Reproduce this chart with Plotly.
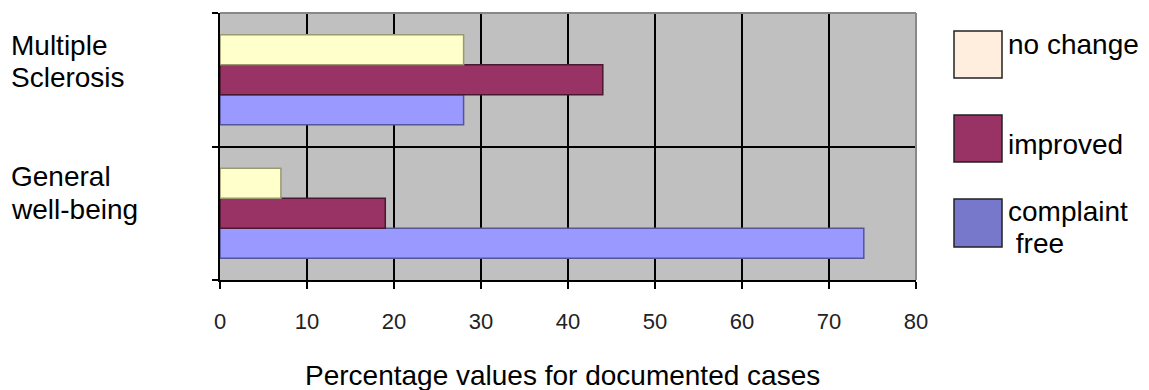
import plotly.graph_objects as go

# Data
categories = ["General well-being", "Multiple Sclerosis"]
category_label_lines = [["General", "well-being"], ["Multiple", "Sclerosis"]]
series_names = ["complaint free", "improved", "no change"]
legend_label_lines = [["complaint", " free"], ["improved"], ["no change"]]
complaint_free = [74, 28]
improved = [19, 44]
no_change = [7, 28]
x_ticks = [0, 10, 20, 30, 40, 50, 60, 70, 80]

# Styling
W, H = 1149, 390
L, R, T, B = 220, 916, 13, 280
bar_fill = {"complaint free": "#9999FF", "improved": "#993366", "no change": "#FFFFCC"}
bar_edge = {"complaint free": "#555599", "improved": "#4A1830", "no change": "#9A9A70"}
swatch_fill = {"complaint free": "#7777CC", "improved": "#993366", "no change": "#FFEEDD"}
FONT = "Liberation Sans, Arial, sans-serif"


def px(x):
    return (x - L) / (R - L)


def py(y):
    return 1 - (y - T) / (B - T)


def text_line(text, x, y, size=28):
    fig.add_annotation(text=text, xref="paper", yref="paper", x=px(x), y=py(y),
                       xanchor="left", yanchor="middle", align="left", showarrow=False,
                       font=dict(size=size, family=FONT, color="black"))


fig = go.Figure()
for name, vals in zip(series_names, [complaint_free, improved, no_change]):
    fig.add_trace(go.Bar(
        y=categories, x=vals, name=name, orientation="h",
        marker=dict(color=bar_fill[name], line=dict(color=bar_edge[name], width=1.5)),
        showlegend=False,
    ))

fig.update_layout(
    width=W, height=H,
    margin=dict(l=L, r=W - R, t=T, b=H - B, pad=0),
    paper_bgcolor="white", plot_bgcolor="#C0C0C0",
    barmode="group", bargap=0.326, bargroupgap=0,
    font=dict(family=FONT, color="black"),
)
fig.update_xaxes(
    range=[0, 80], tickvals=x_ticks, ticktext=[str(v) for v in x_ticks],
    showgrid=True, gridcolor="black", gridwidth=1.5, zeroline=False,
    showline=True, linecolor="black", linewidth=1.5,
    ticks="outside", ticklen=7, tickcolor="black", tickwidth=1.5,
    tickfont=dict(family=FONT, size=22, color="#222"),
    ticklabelstandoff=14,
)
fig.update_yaxes(
    type="category", categoryorder="array", categoryarray=categories,
    range=[-0.5, 1.5], tickson="boundaries", showticklabels=False,
    showgrid=True, gridcolor="black", gridwidth=1.5, zeroline=False,
    showline=True, linecolor="black", linewidth=1.5,
    ticks="outside", ticklen=6, tickcolor="black", tickwidth=1.5,
)

# grey frame on the top and right edges
fig.add_shape(type="line", xref="paper", yref="paper", x0=0, x1=1, y0=1, y1=1,
              line=dict(color="#888888", width=2), layer="above")
fig.add_shape(type="line", xref="paper", yref="paper", x0=1, x1=1, y0=0, y1=1,
              line=dict(color="#888888", width=2), layer="above")

# category labels, one line at a time
cat_line_y = [[177, 209], [46, 77]]
for lines, ys in zip(category_label_lines, cat_line_y):
    for t, y in zip(lines, ys):
        text_line(t, 9, y)

# legend drawn as boxes and labels
sw_y = {"no change": (31, 78), "improved": (115, 162), "complaint free": (199, 247)}
legend_line_y = {"no change": [45], "improved": [144], "complaint free": [211, 243]}
for name, lines in zip(series_names, legend_label_lines):
    y0, y1 = sw_y[name]
    fig.add_shape(type="rect", xref="paper", yref="paper",
                  x0=px(954), x1=px(1002), y0=py(y1), y1=py(y0),
                  fillcolor=swatch_fill[name], line=dict(color="#222222", width=1.5))
    for t, y in zip(lines, legend_line_y[name]):
        text_line(t, 1006, y)

# axis title
fig.add_annotation(text="Percentage values for documented cases", xref="paper", yref="paper",
                   x=px(562), y=py(375), xanchor="center", yanchor="middle", showarrow=False,
                   font=dict(size=28, family=FONT, color="black"))

fig.write_html("out.html")
